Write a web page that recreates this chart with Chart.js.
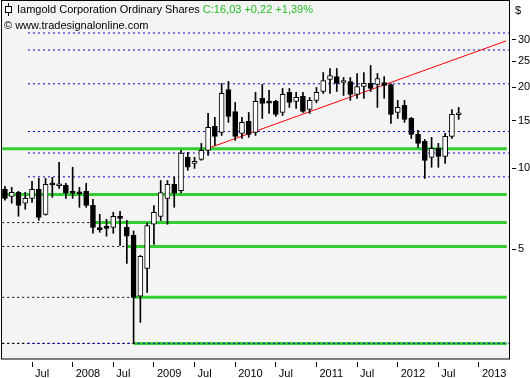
<!DOCTYPE html>
<html>
<head>
<meta charset="utf-8">
<script src="https://cdn.jsdelivr.net/npm/chart.js@4/dist/chart.umd.min.js"></script>
<style>
  html, body { margin: 0; padding: 0; background: #fff; }
  canvas { display: block; }
</style>
</head>
<body>
<canvas id="myChart" width="530" height="378"></canvas>
<script>
// data block
const months = [
  '2007-03','2007-04','2007-05','2007-06','2007-07','2007-08','2007-09','2007-10','2007-11','2007-12',
  '2008-01','2008-02','2008-03','2008-04','2008-05','2008-06','2008-07','2008-08','2008-09','2008-10','2008-11','2008-12',
  '2009-01','2009-02','2009-03','2009-04','2009-05','2009-06','2009-07','2009-08','2009-09','2009-10','2009-11','2009-12',
  '2010-01','2010-02','2010-03','2010-04','2010-05','2010-06','2010-07','2010-08','2010-09','2010-10','2010-11','2010-12',
  '2011-01','2011-02','2011-03','2011-04','2011-05','2011-06','2011-07','2011-08','2011-09','2011-10','2011-11','2011-12',
  '2012-01','2012-02','2012-03','2012-04','2012-05','2012-06','2012-07','2012-08','2012-09','2012-10'
];
const opens = [
  8.36, 7.87, 8.15, 7.42, 7.74, 8.36, 6.75, 8.75, 8.62, 8.65,
  8.22, 8.12, 8.22, 7.29, 5.97, 6.09, 6.04, 6.57, 6.04, 5.64, 3.35, 4.25,
  6.20, 6.63, 7.74, 8.72, 8.27, 10.99, 10.43, 10.80, 11.66, 14.32, 13.60, 19.62,
  16.26, 13.48, 14.93, 13.60, 18.18, 17.60, 17.72, 16.12, 19.13, 17.72, 18.49, 16.54,
  17.87, 19.29, 21.37, 21.92, 20.83, 21.00, 18.81, 20.13, 20.66, 20.48, 20.83, 20.48,
  16.12, 17.12, 15.32, 13.37, 12.59, 10.99, 11.86, 11.08, 13.14, 15.81
];
const highs = [
  8.58, 8.50, 8.22, 8.15, 8.95, 9.18, 9.18, 9.26, 10.53, 8.79,
  10.09, 8.50, 8.79, 7.67, 6.75, 6.47, 6.87, 6.93, 6.41, 5.86, 4.75, 6.26,
  7.28, 9.01, 9.01, 9.26, 11.66, 11.46, 10.99, 12.38, 16.00, 15.46, 20.66, 21.00,
  17.56, 15.46, 16.12, 19.13, 20.48, 19.46, 17.90, 19.79, 19.79, 19.13, 19.13, 18.33,
  19.96, 22.69, 23.48, 23.48, 21.74, 21.74, 22.49, 22.69, 24.08, 22.49, 21.90, 20.60,
  17.87, 17.87, 15.46, 13.84, 12.80, 13.03, 12.38, 13.48, 16.54, 16.83
];
const lows = [
  7.61, 7.42, 6.64, 7.05, 7.48, 6.41, 6.70, 7.81, 8.43, 7.74,
  7.74, 7.17, 7.17, 5.74, 5.79, 5.60, 5.74, 5.18, 4.44, 2.24, 2.68, 3.46,
  5.22, 6.40, 6.20, 7.17, 8.10, 9.83, 10.00, 10.71, 11.17, 12.17, 13.25, 14.81,
  12.70, 12.92, 13.03, 13.25, 15.32, 16.00, 15.60, 15.72, 16.83, 16.68, 16.12, 16.00,
  17.50, 18.97, 18.97, 19.29, 18.64, 17.87, 18.18, 18.18, 19.29, 16.83, 18.20, 14.69,
  15.32, 14.81, 12.92, 11.96, 9.18, 10.09, 10.09, 10.43, 12.92, 15.20
];
const closes = [
  7.74, 8.15, 7.29, 7.74, 8.36, 6.58, 8.72, 8.68, 8.70, 8.08,
  8.08, 8.05, 7.29, 6.04, 5.92, 5.99, 6.64, 6.52, 5.60, 3.32, 4.71, 6.13,
  6.86, 8.13, 8.72, 8.08, 11.40, 10.09, 10.61, 11.66, 14.19, 13.14, 18.97, 15.59,
  13.14, 14.81, 13.37, 17.72, 17.42, 17.45, 15.85, 18.81, 17.56, 18.33, 16.26, 17.87,
  19.13, 21.19, 22.11, 20.66, 21.19, 18.81, 20.13, 20.66, 19.79, 21.56, 20.30, 15.85,
  16.83, 15.20, 13.37, 12.38, 10.71, 11.86, 11.08, 13.14, 15.85, 16.03
];

// tick labels on the right axis and the time axis
const priceTicks = [5, 10, 15, 20, 25, 30];
const timeTicks = ['2007-07','2008-01','2008-07','2009-01','2009-07','2010-01','2010-07','2011-01','2011-07','2012-01','2012-07','2013-01'];

// horizontal levels (month index where a line starts / ends)
const dottedLevels = [31.8, 27.5, 20.6, 13.7, 11.4, 9.3, 2.24];
const supportLevels = [11.83, 7.99, 6.29, 5.13, 3.32, 2.24];
const supportFrom = [1.6, 1.6, 15, 20, 21, 21];
const trendFrom = [31.84, 11.83];
const trendTo = [75.98, 29.7];

const lastClose = '16,03', lastChange = '+0,22', lastPct = '+1,39%';

// helpers
const monthIndex = s => (parseInt(s.slice(0, 4)) - 2007) * 12 + parseInt(s.slice(5, 7)) - 1;
const FONT = '"Liberation Sans", Arial, sans-serif';

const wickData = months.map((m, i) => ({ x: monthIndex(m), y: [lows[i], highs[i]] }));
const bodyData = months.map((m, i) => ({ x: monthIndex(m), y: [opens[i], closes[i]] }));
const bodyColors = months.map((m, i) => closes[i] >= opens[i] ? '#ffffff' : '#000000');

const hLine = (from, to, v, color, width, dash, order) => ({
  type: 'line',
  data: [{ x: from, y: v }, { x: to, y: v }],
  borderColor: color,
  borderWidth: width,
  borderDash: dash,
  pointRadius: 0,
  order: order
});

const datasets = [];
supportLevels.forEach((v, i) => {
  if (supportFrom[i] > 2) datasets.push(hLine(1.6, supportFrom[i], v, '#000000', 1, [2, 3], 12));
  datasets.push(hLine(supportFrom[i], 76.1, v, '#33cc33', 3, [], 11));
});
datasets.push(hLine(1.6, 5.4, 2.24, '#000000', 1, [2, 3], 12));
dottedLevels.forEach(v => datasets.push(hLine(5.4, 76.4, v, '#0000c8', 1, [2, 3], 10)));
datasets.push({
  type: 'line',
  data: [{ x: trendFrom[0], y: trendFrom[1] }, { x: trendTo[0], y: trendTo[1] }],
  borderColor: '#ff0000', borderWidth: 1, pointRadius: 0, order: 9
});
datasets.push({
  type: 'bar', data: wickData, backgroundColor: '#000000',
  barThickness: 1, grouped: false, order: 2
});
datasets.push({
  type: 'bar', data: bodyData, backgroundColor: bodyColors,
  borderColor: '#000000', borderWidth: 1, borderSkipped: false,
  barThickness: 5, minBarLength: 2, grouped: false, order: 1
});

// background, frame and header text
const decor = {
  id: 'decor',
  beforeDraw(chart) {
    const { ctx, chartArea: a } = chart;
    ctx.save();
    ctx.fillStyle = '#ffffff';
    ctx.fillRect(0, 0, chart.width, chart.height);
    ctx.fillStyle = '#f4f4f4';
    ctx.fillRect(a.left, a.top, a.right - a.left, a.bottom - a.top);
    ctx.restore();
  },
  afterDraw(chart) {
    const { ctx, chartArea: a } = chart;
    ctx.save();
    ctx.strokeStyle = '#000';
    ctx.lineWidth = 1;
    ctx.strokeRect(a.left + 0.5, a.top - 0.5, a.right - a.left, a.bottom - a.top + 0.5);

    // small candle icon
    ctx.beginPath();
    ctx.moveTo(8.5, 3); ctx.lineTo(8.5, 16);
    ctx.stroke();
    ctx.fillStyle = '#fff';
    ctx.fillRect(5.5, 6.5, 6, 6);
    ctx.strokeRect(5.5, 6.5, 6, 6);

    ctx.font = '11px ' + FONT;
    ctx.textBaseline = 'alphabetic';
    ctx.fillStyle = '#000';
    const name = 'Iamgold Corporation Ordinary Shares ';
    ctx.fillText(name, 17, 13);
    ctx.fillStyle = '#22bb22';
    ctx.fillText('C:' + lastClose + ' ' + lastChange + ' ' + lastPct, 17 + ctx.measureText(name).width, 13);
    ctx.fillStyle = '#000';
    ctx.fillText('\u00a9 www.tradesignalonline.com', 4, 29);
    ctx.fillText('$', a.right + 6, 14);
    ctx.restore();
  }
};

// config block
const config = {
  type: 'bar',
  data: { datasets: datasets },
  options: {
    responsive: false,
    animation: false,
    layout: { padding: { left: 1, top: 1, right: 0, bottom: 0 } },
    plugins: { legend: { display: false }, tooltip: { enabled: false } },
    scales: {
      x: {
        type: 'linear',
        offset: false,
        min: 1.42,
        max: 76.43,
        afterBuildTicks: s => { s.ticks = timeTicks.map(t => ({ value: monthIndex(t) })); },
        afterFit: s => { s.height = 19; s.paddingLeft = 0; s.paddingRight = 0; },
        border: { display: false },
        grid: { offset: false, drawOnChartArea: false, tickLength: 8, tickColor: '#000', tickBorderDash: [0, 3, 5, 20] },
        ticks: {
          align: 'start',
          labelOffset: 3,
          padding: 0,
          color: '#000',
          font: { family: FONT, size: 11 },
          callback: v => (v % 12 === 6 ? 'Jul' : String(2007 + v / 12))
        }
      },
      y: {
        type: 'logarithmic',
        position: 'right',
        min: 1.96,
        max: 41.8,
        afterBuildTicks: s => { s.ticks = priceTicks.map(v => ({ value: v })); },
        afterFit: s => { s.width = 21; s.paddingTop = 0; s.paddingBottom = 0; },
        border: { display: false },
        grid: { drawOnChartArea: false, tickLength: 7, tickColor: '#000', tickBorderDash: [0, 3, 4, 20] },
        ticks: {
          padding: 2,
          color: '#000',
          font: { family: FONT, size: 11 },
          callback: v => String(v)
        }
      }
    }
  },
  plugins: [decor]
};

// init render block
const myChart = new Chart(document.getElementById('myChart'), config);
</script>
</body>
</html>
